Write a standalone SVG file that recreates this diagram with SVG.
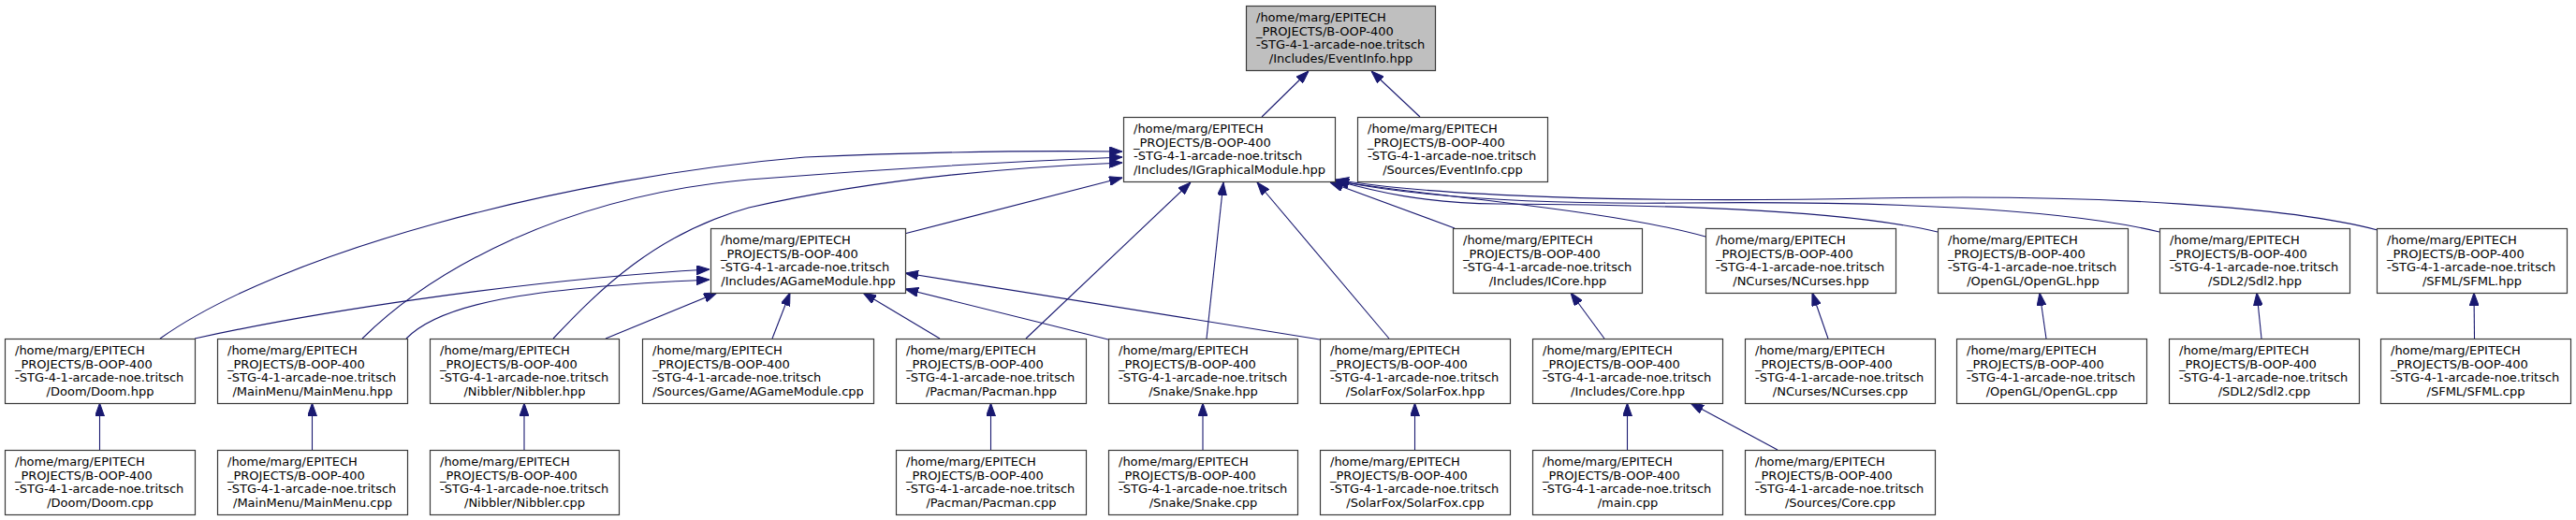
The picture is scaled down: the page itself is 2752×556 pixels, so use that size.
<svg xmlns="http://www.w3.org/2000/svg" width="2752" height="556" viewBox="0 0 2752 556">
<style>
.n rect{fill:#ffffff;stroke:#3a3a3a;stroke-width:1.2}
.n.root rect{fill:#bfbfbf}
.n text{font-family:"DejaVu Sans",sans-serif;font-size:13px;fill:#000000}
.n text.c{text-anchor:middle}
.e path{fill:none;stroke:#191970;stroke-width:1.1;marker-end:url(#ah)}
</style>
<defs>
<marker id="ah" viewBox="0 0 14 10" refX="14" refY="5" markerWidth="14" markerHeight="10" markerUnits="userSpaceOnUse" orient="auto">
<path d="M0,0 L14,5 L0,10 z" fill="#191970" stroke="#191970" stroke-width="1"/>
</marker>
</defs>
<rect width="2752" height="556" fill="#ffffff"/>
<g id="connectors" class="e">
<path d="M1348,125 L1398,76"/>
<path d="M1517,125 L1465,76"/>
<path d="M966,250 L1199,190"/>
<path d="M1554,244 L1421,195"/>
<path d="M1822,253 C1720,225 1560,213 1427,194"/>
<path d="M2070,248 C1960,222 1750,219 1600,218 C1520,217 1470,205 1427,193"/>
<path d="M2307,248 C2200,222 2000,215 1800,217 C1620,219 1500,208 1427,193"/>
<path d="M2540,246 C2450,222 2250,207 2000,212 C1750,217 1530,210 1427,192"/>
<path d="M1096,362 L1272,195"/>
<path d="M1289,362 L1307,195"/>
<path d="M1484,362 L1343,195"/>
<path d="M171,362 C300,270 600,190 860,168 C1000,162 1120,161 1199,162"/>
<path d="M387,362 C460,290 600,210 800,192 C950,180 1100,172 1199,168"/>
<path d="M591,362 C640,310 700,250 800,222 C950,188 1100,178 1199,174"/>
<path d="M208,362 C330,335 550,300 758,288"/>
<path d="M434,362 C470,325 560,308 758,299"/>
<path d="M647,362 L766,313"/>
<path d="M825,362 L844,313"/>
<path d="M1004,362 L922,313"/>
<path d="M1184,363 L967,309"/>
<path d="M1410,363 L967,292"/>
<path d="M1714,362 L1678,313"/>
<path d="M1738.5,481 L1738.5,431"/>
<path d="M1899,481 L1806,431"/>
<path d="M1953,362 L1936,313"/>
<path d="M2186,362 L2179,313"/>
<path d="M2416,362 L2411,313"/>
<path d="M2643.5,362 L2643,313"/>
<path d="M106.5,481 L106.5,431"/>
<path d="M333.5,481 L333.5,431"/>
<path d="M560,481 L560,431"/>
<path d="M1058.5,481 L1058.5,431"/>
<path d="M1285,481 L1285,431"/>
<path d="M1511.5,481 L1511.5,431"/>
</g>
<g id="n_eventinfo_hpp" class="n root"><rect x="1331.5" y="6.5" width="202" height="69"/><text x="1342" y="23">/home/marg/EPITECH</text><text x="1342" y="37.5">_PROJECTS/B-OOP-400</text><text x="1342" y="52">-STG-4-1-arcade-noe.tritsch</text><text class="c" x="1432.5" y="66.5">/Includes/EventInfo.hpp</text></g>
<g id="n_igraphicalmodule" class="n"><rect x="1200.5" y="125.5" width="226" height="69"/><text x="1211" y="142">/home/marg/EPITECH</text><text x="1211" y="156.5">_PROJECTS/B-OOP-400</text><text x="1211" y="171">-STG-4-1-arcade-noe.tritsch</text><text class="c" x="1313.5" y="185.5">/Includes/IGraphicalModule.hpp</text></g>
<g id="n_eventinfo_cpp" class="n"><rect x="1450.5" y="125.5" width="203" height="69"/><text x="1461" y="142">/home/marg/EPITECH</text><text x="1461" y="156.5">_PROJECTS/B-OOP-400</text><text x="1461" y="171">-STG-4-1-arcade-noe.tritsch</text><text class="c" x="1552" y="185.5">/Sources/EventInfo.cpp</text></g>
<g id="n_agamemodule_hpp" class="n"><rect x="759.5" y="244.5" width="208" height="69"/><text x="770" y="261">/home/marg/EPITECH</text><text x="770" y="275.5">_PROJECTS/B-OOP-400</text><text x="770" y="290">-STG-4-1-arcade-noe.tritsch</text><text class="c" x="863.5" y="304.5">/Includes/AGameModule.hpp</text></g>
<g id="n_icore" class="n"><rect x="1552.5" y="244.5" width="202" height="69"/><text x="1563" y="261">/home/marg/EPITECH</text><text x="1563" y="275.5">_PROJECTS/B-OOP-400</text><text x="1563" y="290">-STG-4-1-arcade-noe.tritsch</text><text class="c" x="1653.5" y="304.5">/Includes/ICore.hpp</text></g>
<g id="n_ncurses_hpp" class="n"><rect x="1822.5" y="244.5" width="203" height="69"/><text x="1833" y="261">/home/marg/EPITECH</text><text x="1833" y="275.5">_PROJECTS/B-OOP-400</text><text x="1833" y="290">-STG-4-1-arcade-noe.tritsch</text><text class="c" x="1924" y="304.5">/NCurses/NCurses.hpp</text></g>
<g id="n_opengl_hpp" class="n"><rect x="2070.5" y="244.5" width="203" height="69"/><text x="2081" y="261">/home/marg/EPITECH</text><text x="2081" y="275.5">_PROJECTS/B-OOP-400</text><text x="2081" y="290">-STG-4-1-arcade-noe.tritsch</text><text class="c" x="2172" y="304.5">/OpenGL/OpenGL.hpp</text></g>
<g id="n_sdl2_hpp" class="n"><rect x="2307.5" y="244.5" width="203" height="69"/><text x="2318" y="261">/home/marg/EPITECH</text><text x="2318" y="275.5">_PROJECTS/B-OOP-400</text><text x="2318" y="290">-STG-4-1-arcade-noe.tritsch</text><text class="c" x="2409" y="304.5">/SDL2/Sdl2.hpp</text></g>
<g id="n_sfml_hpp" class="n"><rect x="2539.5" y="244.5" width="203" height="69"/><text x="2550" y="261">/home/marg/EPITECH</text><text x="2550" y="275.5">_PROJECTS/B-OOP-400</text><text x="2550" y="290">-STG-4-1-arcade-noe.tritsch</text><text class="c" x="2641" y="304.5">/SFML/SFML.hpp</text></g>
<g id="n_doom_hpp" class="n"><rect x="5.5" y="362.5" width="203" height="69"/><text x="16" y="379">/home/marg/EPITECH</text><text x="16" y="393.5">_PROJECTS/B-OOP-400</text><text x="16" y="408">-STG-4-1-arcade-noe.tritsch</text><text class="c" x="107" y="422.5">/Doom/Doom.hpp</text></g>
<g id="n_mainmenu_hpp" class="n"><rect x="232.5" y="362.5" width="203" height="69"/><text x="243" y="379">/home/marg/EPITECH</text><text x="243" y="393.5">_PROJECTS/B-OOP-400</text><text x="243" y="408">-STG-4-1-arcade-noe.tritsch</text><text class="c" x="334" y="422.5">/MainMenu/MainMenu.hpp</text></g>
<g id="n_nibbler_hpp" class="n"><rect x="459.5" y="362.5" width="202" height="69"/><text x="470" y="379">/home/marg/EPITECH</text><text x="470" y="393.5">_PROJECTS/B-OOP-400</text><text x="470" y="408">-STG-4-1-arcade-noe.tritsch</text><text class="c" x="560.5" y="422.5">/Nibbler/Nibbler.hpp</text></g>
<g id="n_agamemodule_cpp" class="n"><rect x="686.5" y="362.5" width="247" height="69"/><text x="697" y="379">/home/marg/EPITECH</text><text x="697" y="393.5">_PROJECTS/B-OOP-400</text><text x="697" y="408">-STG-4-1-arcade-noe.tritsch</text><text class="c" x="810" y="422.5">/Sources/Game/AGameModule.cpp</text></g>
<g id="n_pacman_hpp" class="n"><rect x="957.5" y="362.5" width="203" height="69"/><text x="968" y="379">/home/marg/EPITECH</text><text x="968" y="393.5">_PROJECTS/B-OOP-400</text><text x="968" y="408">-STG-4-1-arcade-noe.tritsch</text><text class="c" x="1059" y="422.5">/Pacman/Pacman.hpp</text></g>
<g id="n_snake_hpp" class="n"><rect x="1184.5" y="362.5" width="202" height="69"/><text x="1195" y="379">/home/marg/EPITECH</text><text x="1195" y="393.5">_PROJECTS/B-OOP-400</text><text x="1195" y="408">-STG-4-1-arcade-noe.tritsch</text><text class="c" x="1285.5" y="422.5">/Snake/Snake.hpp</text></g>
<g id="n_solarfox_hpp" class="n"><rect x="1410.5" y="362.5" width="203" height="69"/><text x="1421" y="379">/home/marg/EPITECH</text><text x="1421" y="393.5">_PROJECTS/B-OOP-400</text><text x="1421" y="408">-STG-4-1-arcade-noe.tritsch</text><text class="c" x="1512" y="422.5">/SolarFox/SolarFox.hpp</text></g>
<g id="n_core_hpp" class="n"><rect x="1637.5" y="362.5" width="203" height="69"/><text x="1648" y="379">/home/marg/EPITECH</text><text x="1648" y="393.5">_PROJECTS/B-OOP-400</text><text x="1648" y="408">-STG-4-1-arcade-noe.tritsch</text><text class="c" x="1739" y="422.5">/Includes/Core.hpp</text></g>
<g id="n_ncurses_cpp" class="n"><rect x="1864.5" y="362.5" width="203" height="69"/><text x="1875" y="379">/home/marg/EPITECH</text><text x="1875" y="393.5">_PROJECTS/B-OOP-400</text><text x="1875" y="408">-STG-4-1-arcade-noe.tritsch</text><text class="c" x="1966" y="422.5">/NCurses/NCurses.cpp</text></g>
<g id="n_opengl_cpp" class="n"><rect x="2090.5" y="362.5" width="203" height="69"/><text x="2101" y="379">/home/marg/EPITECH</text><text x="2101" y="393.5">_PROJECTS/B-OOP-400</text><text x="2101" y="408">-STG-4-1-arcade-noe.tritsch</text><text class="c" x="2192" y="422.5">/OpenGL/OpenGL.cpp</text></g>
<g id="n_sdl2_cpp" class="n"><rect x="2317.5" y="362.5" width="203" height="69"/><text x="2328" y="379">/home/marg/EPITECH</text><text x="2328" y="393.5">_PROJECTS/B-OOP-400</text><text x="2328" y="408">-STG-4-1-arcade-noe.tritsch</text><text class="c" x="2419" y="422.5">/SDL2/Sdl2.cpp</text></g>
<g id="n_sfml_cpp" class="n"><rect x="2543.5" y="362.5" width="203" height="69"/><text x="2554" y="379">/home/marg/EPITECH</text><text x="2554" y="393.5">_PROJECTS/B-OOP-400</text><text x="2554" y="408">-STG-4-1-arcade-noe.tritsch</text><text class="c" x="2645" y="422.5">/SFML/SFML.cpp</text></g>
<g id="n_doom_cpp" class="n"><rect x="5.5" y="481.5" width="203" height="69"/><text x="16" y="498">/home/marg/EPITECH</text><text x="16" y="512.5">_PROJECTS/B-OOP-400</text><text x="16" y="527">-STG-4-1-arcade-noe.tritsch</text><text class="c" x="107" y="541.5">/Doom/Doom.cpp</text></g>
<g id="n_mainmenu_cpp" class="n"><rect x="232.5" y="481.5" width="203" height="69"/><text x="243" y="498">/home/marg/EPITECH</text><text x="243" y="512.5">_PROJECTS/B-OOP-400</text><text x="243" y="527">-STG-4-1-arcade-noe.tritsch</text><text class="c" x="334" y="541.5">/MainMenu/MainMenu.cpp</text></g>
<g id="n_nibbler_cpp" class="n"><rect x="459.5" y="481.5" width="202" height="69"/><text x="470" y="498">/home/marg/EPITECH</text><text x="470" y="512.5">_PROJECTS/B-OOP-400</text><text x="470" y="527">-STG-4-1-arcade-noe.tritsch</text><text class="c" x="560.5" y="541.5">/Nibbler/Nibbler.cpp</text></g>
<g id="n_pacman_cpp" class="n"><rect x="957.5" y="481.5" width="203" height="69"/><text x="968" y="498">/home/marg/EPITECH</text><text x="968" y="512.5">_PROJECTS/B-OOP-400</text><text x="968" y="527">-STG-4-1-arcade-noe.tritsch</text><text class="c" x="1059" y="541.5">/Pacman/Pacman.cpp</text></g>
<g id="n_snake_cpp" class="n"><rect x="1184.5" y="481.5" width="202" height="69"/><text x="1195" y="498">/home/marg/EPITECH</text><text x="1195" y="512.5">_PROJECTS/B-OOP-400</text><text x="1195" y="527">-STG-4-1-arcade-noe.tritsch</text><text class="c" x="1285.5" y="541.5">/Snake/Snake.cpp</text></g>
<g id="n_solarfox_cpp" class="n"><rect x="1410.5" y="481.5" width="203" height="69"/><text x="1421" y="498">/home/marg/EPITECH</text><text x="1421" y="512.5">_PROJECTS/B-OOP-400</text><text x="1421" y="527">-STG-4-1-arcade-noe.tritsch</text><text class="c" x="1512" y="541.5">/SolarFox/SolarFox.cpp</text></g>
<g id="n_main_cpp" class="n"><rect x="1637.5" y="481.5" width="203" height="69"/><text x="1648" y="498">/home/marg/EPITECH</text><text x="1648" y="512.5">_PROJECTS/B-OOP-400</text><text x="1648" y="527">-STG-4-1-arcade-noe.tritsch</text><text class="c" x="1739" y="541.5">/main.cpp</text></g>
<g id="n_core_cpp" class="n"><rect x="1864.5" y="481.5" width="203" height="69"/><text x="1875" y="498">/home/marg/EPITECH</text><text x="1875" y="512.5">_PROJECTS/B-OOP-400</text><text x="1875" y="527">-STG-4-1-arcade-noe.tritsch</text><text class="c" x="1966" y="541.5">/Sources/Core.cpp</text></g>
</svg>
